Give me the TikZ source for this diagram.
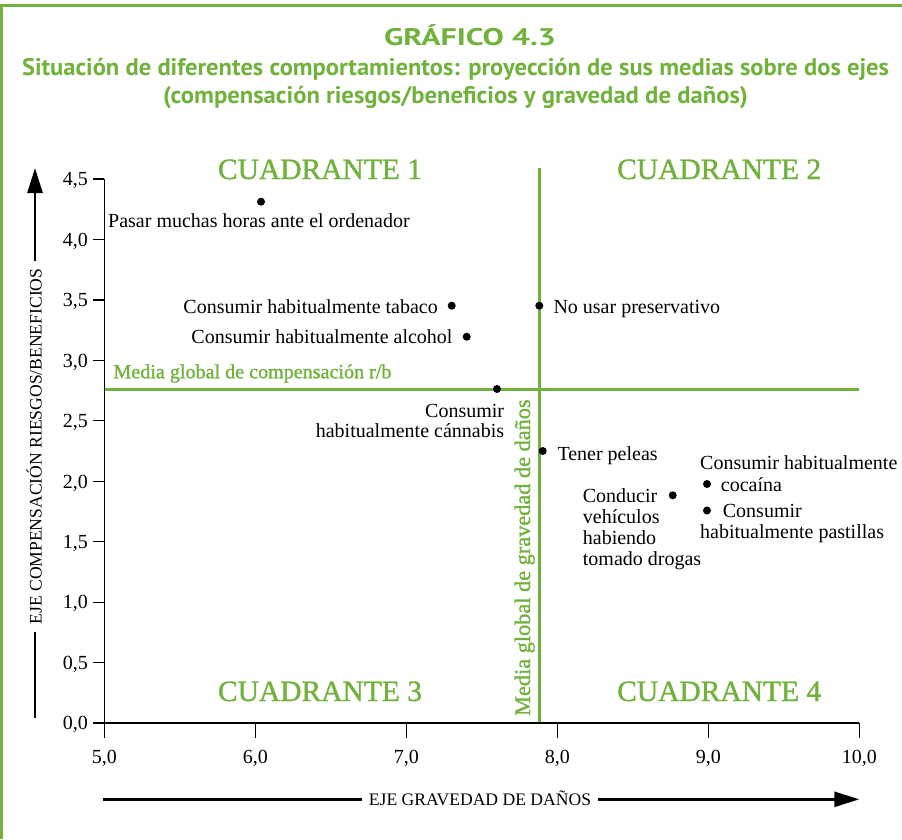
\documentclass[tikz,border=0pt]{standalone}
\usepackage{fontspec}
\setmainfont{Liberation Serif}
\newfontfamily\titlefont{PT Sans}
\newfontfamily\grnfont[FakeBold=1.2]{Liberation Serif}
\usetikzlibrary{arrows.meta}
\definecolor{gr}{RGB}{112,178,60}
\newsavebox\fitbox
\newlength\fitlen
\newcommand\fitw[2]{\sbox\fitbox{#2}\setlength\fitlen{\wd\fitbox}\pgfmathsetmacro\fitsc{#1/\fitlen}\scalebox{\fitsc}[1]{\usebox\fitbox}}
\begin{document}
\begin{tikzpicture}[x=1pt,y=-1pt,
  lbl/.style={inner sep=0pt, font=\fontsize{20}{22}\selectfont},
  quad/.style={inner sep=0pt, text=gr, font=\grnfont\fontsize{29.5}{30}\selectfont},
  mean/.style={inner sep=0pt, text=gr},
  axt/.style={inner ysep=0pt, inner xsep=7pt, font=\fontsize{17.6}{18}\selectfont},
  ttl/.style={inner sep=0pt, text=gr, font=\titlefont\bfseries\fontsize{24}{26}\selectfont},
  dot/.style={circle, fill=black, inner sep=0pt, minimum size=8pt},
  gline/.style={gr, line width=2.4pt},
  axisline/.style={line width=1.2pt},
  bigarrow/.style={line width=2.6pt, -{Triangle[length=25pt,width=15pt]}},
  bigline/.style={line width=2.6pt}]
\fill[white] (0,0) rectangle (902,839);
\useasboundingbox (0,0) rectangle (902,839);
% frame
\draw[gr, line width=3pt] (1.5,839) -- (1.5,5.5) -- (902,5.5);
% title
\node[ttl, anchor=base] (t1) at (470,45) {\fitw{172}{GRÁFICO 4.3}};
\node[ttl, anchor=base] (t2) at (455.5,75) {\fitw{867}{Situación de diferentes comportamientos: proyección de sus medias sobre dos ejes}};
\node[ttl, anchor=base] (t3) at (455.5,103) {\fitw{585}{(compensación riesgos/beneficios y gravedad de daños)}};
% quadrant labels
\node[quad, anchor=base] (q1) at (320,179) {CUADRANTE 1};
\node[quad, anchor=base] (q2) at (719.2,179) {CUADRANTE 2};
\node[quad, anchor=base] (q3) at (320,701) {CUADRANTE 3};
\node[quad, anchor=base] (q4) at (719.2,701) {CUADRANTE 4};
% mean lines
\draw[gline] (104.3,389.5) -- (859.3,389.5);
\draw[gline] (539.3,168) -- (539.3,723);
\node[mean, anchor=base west, font=\grnfont\fontsize{20.1}{22}\selectfont] (mh) at (113.3,378.3) {Media global de compensación r/b};
\node[mean, anchor=base west, rotate=90, font=\grnfont\fontsize{22.3}{24}\selectfont] (mv) at (530,716) {Media global de gravedad de daños};
% axes
\draw[axisline] (104.3,179) -- (104.3,723) -- (859.3,723);
\foreach \v/\t in {0/{0,0},1/{0,5},2/{1,0},3/{1,5},4/{2,0},5/{2,5},6/{3,0},7/{3,5},8/{4,0},9/{4,5}}{
  \draw[axisline] (93,723-\v*60.44) -- (104.3,723-\v*60.44);
  \node[lbl, anchor=base east] (yt\v) at (88,729.8-\v*60.44) {\t};
}
\foreach \k/\t in {0/{5,0},1/{6,0},2/{7,0},3/{8,0},4/{9,0},5/{10,0}}{
  \draw[axisline] (104.3+\k*151,723) -- (104.3+\k*151,738);
  \node[lbl, anchor=base] (xt\k) at (104.3+\k*151,763.3) {\t};
}
% axis titles
\node[axt, anchor=base] (xlab) at (480,805) {EJE GRAVEDAD DE DAÑOS};
\coordinate (xs) at (103.3,799.3);
\coordinate (xe) at (859.3,799.3);
\draw[bigline] (xs) -- (xs -| xlab.west);
\draw[bigarrow] (xe -| xlab.east) -- (xe);
\node[axt, anchor=base, rotate=90] (ylab) at (41.5,446.5) {EJE COMPENSACIÓN RIESGOS/BENEFICIOS};
\coordinate (ys) at (35,718);
\coordinate (ye) at (35,168);
\draw[bigline] (ys) -- (ys |- ylab.west);
\draw[bigarrow] (ye |- ylab.east) -- (ye);
% points
\node[dot] (d1) at (261,201.7) {};
\node[dot] (d2) at (451.7,305.7) {};
\node[dot] (d3) at (466.7,336.7) {};
\node[dot] (d4) at (539.3,305.7) {};
\node[dot] (d5) at (497,389) {};
\node[dot] (d6) at (542.7,451) {};
\node[dot] (d7) at (672.7,495.3) {};
\node[dot] (d8) at (707,484) {};
\node[dot] (d9) at (707,510.5) {};
% point labels
\node[lbl, anchor=base west] (l1) at (108,227.3) {Pasar muchas horas ante el ordenador};
\node[lbl, anchor=base east] (l2) at (438,313.3) {Consumir habitualmente tabaco};
\node[lbl, anchor=base east] (l3) at (452.7,343.3) {Consumir habitualmente alcohol};
\node[lbl, anchor=base west] (l4) at (553.3,313.3) {No usar preservativo};
\node[lbl, anchor=base east] (l5a) at (504.3,417.7) {Consumir};
\node[lbl, anchor=base east] (l5b) at (504.3,437.7) {habitualmente cánnabis};
\node[lbl, anchor=base west] (l6) at (557.3,460.5) {Tener peleas};
\node[lbl, anchor=base west] (l7a) at (582.7,502.3) {Conducir};
\node[lbl, anchor=base west] (l7b) at (582.7,523.3) {vehículos};
\node[lbl, anchor=base west] (l7c) at (582.7,544) {habiendo};
\node[lbl, anchor=base west] (l7d) at (582.7,565) {tomado drogas};
\node[lbl, anchor=base west] (l8a) at (700,469.3) {Consumir habitualmente};
\node[lbl, anchor=base west] (l8b) at (720.7,491.7) {cocaína};
\node[lbl, anchor=base west] (l9a) at (722.7,517.3) {Consumir};
\node[lbl, anchor=base west] (l9b) at (700,538.3) {habitualmente pastillas};
\end{tikzpicture}
\end{document}
